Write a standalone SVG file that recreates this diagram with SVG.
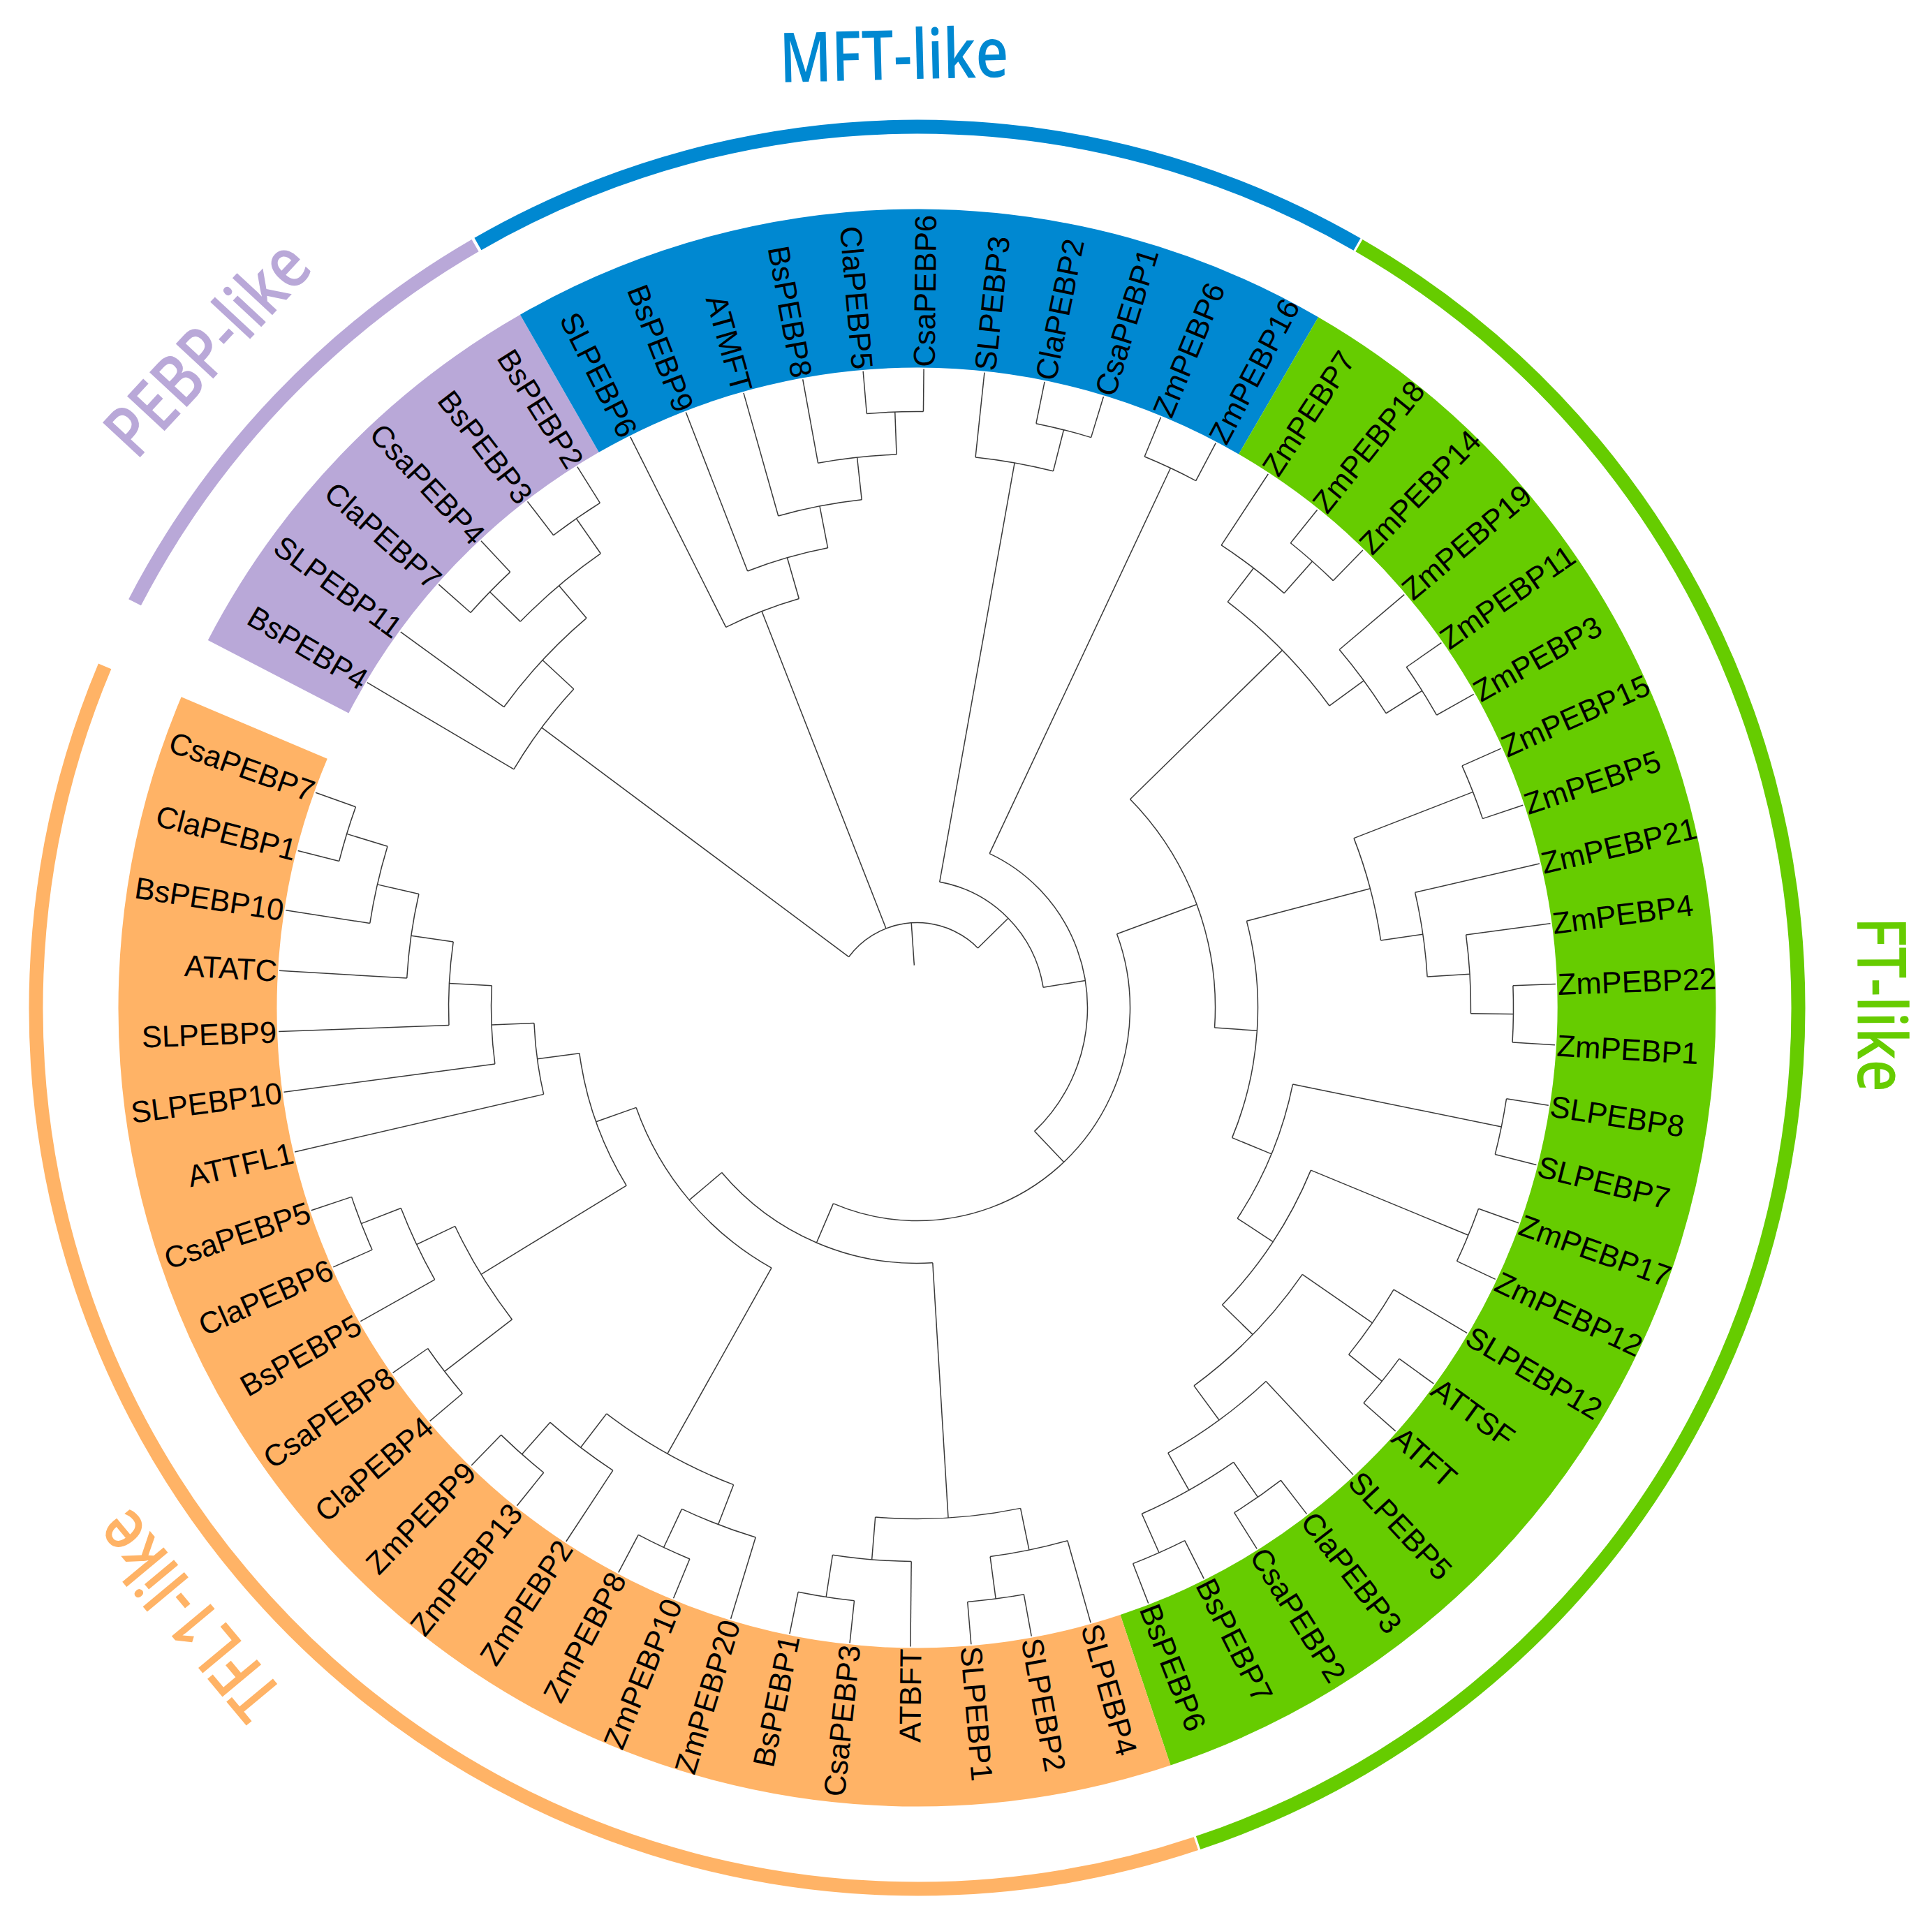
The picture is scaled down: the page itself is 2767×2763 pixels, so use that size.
<svg xmlns="http://www.w3.org/2000/svg" width="2767" height="2763" viewBox="0 0 2767 2763">
<style>
.br path,.br circle{fill:none;stroke:#3a3a3a;stroke-width:1.5}
.band{fill:none;stroke-width:227}
.ring{fill:none;stroke-width:20}
.lb{font-family:"Liberation Sans",Arial,sans-serif;font-size:43.5px;fill:#000}
.f{text-anchor:end}
.ttl{font-family:"Open Sans","Noto Sans",sans-serif;font-weight:600;text-anchor:middle}
</style>
<rect width="2767" height="2763" fill="#fff"/>
<g transform="translate(1313.5 1443.5)">
<g id="clade-bands">
<circle class="band" r="1030.5" pathLength="360" stroke="#B9A8D8" stroke-dasharray="32.8 720" transform="rotate(-152.6)"/>
<circle class="band" r="1030.5" pathLength="360" stroke="#0088D1" stroke-dasharray="59.95 720" transform="rotate(-119.8)"/>
<circle class="band" r="1030.5" pathLength="360" stroke="#66CC00" stroke-dasharray="131.35 720" transform="rotate(-59.85)"/>
<circle class="band" r="1030.5" pathLength="360" stroke="#FFB366" stroke-dasharray="131.4 720" transform="rotate(71.5)"/>
</g>
<g id="clade-rings">
<circle class="ring" r="1262" pathLength="360" stroke="#B9A8D8" stroke-dasharray="32.5 720" transform="rotate(-152.6)"/>
<circle class="ring" r="1262" pathLength="360" stroke="#0088D1" stroke-dasharray="59.85 720" transform="rotate(-119.9)"/>
<circle class="ring" r="1262" pathLength="360" stroke="#66CC00" stroke-dasharray="131.3 720" transform="rotate(-59.9)"/>
<circle class="ring" r="1262" pathLength="360" stroke="#FFB366" stroke-dasharray="131.25 720" transform="rotate(71.55)"/>
</g>
<g id="connectors" class="br">
<path d="M61 0H122" transform="rotate(-93.9)"/>
<circle r="122" pathLength="360" stroke-dasharray="98.74 720" transform="rotate(-143.27)"/>
<path d="M122 0H671" transform="rotate(-143.27)"/>
<circle r="671" pathLength="360" stroke-dasharray="12.27 720" transform="rotate(-149.4)"/>
<path d="M671 0H732" transform="rotate(-137.13)"/>
<circle r="732" pathLength="360" stroke-dasharray="13.64 720" transform="rotate(-143.95)"/>
<path d="M732 0H793" transform="rotate(-130.31)"/>
<circle r="793" pathLength="360" stroke-dasharray="10.91 720" transform="rotate(-135.77)"/>
<path d="M793 0H854" transform="rotate(-135.77)"/>
<circle r="854" pathLength="360" stroke-dasharray="5.45 720" transform="rotate(-138.49)"/>
<path d="M793 0H854" transform="rotate(-124.86)"/>
<circle r="854" pathLength="360" stroke-dasharray="5.45 720" transform="rotate(-127.58)"/>
<path d="M671 0H915" transform="rotate(-149.4)"/>
<path d="M732 0H915" transform="rotate(-143.95)"/>
<path d="M854 0H915" transform="rotate(-138.49)"/>
<path d="M854 0H915" transform="rotate(-133.04)"/>
<path d="M854 0H915" transform="rotate(-127.58)"/>
<path d="M854 0H915" transform="rotate(-122.13)"/>
<path d="M122 0H610" transform="rotate(-111.39)"/>
<circle r="610" pathLength="360" stroke-dasharray="10.57 720" transform="rotate(-116.67)"/>
<path d="M610 0H671" transform="rotate(-106.1)"/>
<circle r="671" pathLength="360" stroke-dasharray="10.23 720" transform="rotate(-111.22)"/>
<path d="M671 0H732" transform="rotate(-100.99)"/>
<circle r="732" pathLength="360" stroke-dasharray="9.54 720" transform="rotate(-105.76)"/>
<path d="M732 0H793" transform="rotate(-96.22)"/>
<circle r="793" pathLength="360" stroke-dasharray="8.18 720" transform="rotate(-100.31)"/>
<path d="M793 0H854" transform="rotate(-92.13)"/>
<circle r="854" pathLength="360" stroke-dasharray="5.45 720" transform="rotate(-94.85)"/>
<path d="M610 0H915" transform="rotate(-116.67)"/>
<path d="M671 0H915" transform="rotate(-111.22)"/>
<path d="M732 0H915" transform="rotate(-105.76)"/>
<path d="M793 0H915" transform="rotate(-100.31)"/>
<path d="M854 0H915" transform="rotate(-94.85)"/>
<path d="M854 0H915" transform="rotate(-89.4)"/>
<path d="M122 0H183" transform="rotate(-44.53)"/>
<circle r="183" pathLength="360" stroke-dasharray="70.66 720" transform="rotate(-79.86)"/>
<path d="M183 0H793" transform="rotate(-79.86)"/>
<circle r="793" pathLength="360" stroke-dasharray="8.18 720" transform="rotate(-83.95)"/>
<path d="M793 0H854" transform="rotate(-75.77)"/>
<circle r="854" pathLength="360" stroke-dasharray="5.45 720" transform="rotate(-78.49)"/>
<path d="M793 0H915" transform="rotate(-83.95)"/>
<path d="M854 0H915" transform="rotate(-78.49)"/>
<path d="M854 0H915" transform="rotate(-73.04)"/>
<path d="M183 0H244" transform="rotate(-9.2)"/>
<circle r="244" pathLength="360" stroke-dasharray="111.3 720" transform="rotate(-64.85)"/>
<path d="M244 0H854" transform="rotate(-64.85)"/>
<circle r="854" pathLength="360" stroke-dasharray="5.45 720" transform="rotate(-67.58)"/>
<path d="M854 0H915" transform="rotate(-67.58)"/>
<path d="M854 0H915" transform="rotate(-62.13)"/>
<path d="M244 0H305" transform="rotate(46.45)"/>
<circle r="305" pathLength="360" stroke-dasharray="133.46 720" transform="rotate(-20.28)"/>
<path d="M305 0H427" transform="rotate(-20.28)"/>
<circle r="427" pathLength="360" stroke-dasharray="48.24 720" transform="rotate(-44.4)"/>
<path d="M427 0H732" transform="rotate(-44.4)"/>
<circle r="732" pathLength="360" stroke-dasharray="16.36 720" transform="rotate(-52.58)"/>
<path d="M732 0H793" transform="rotate(-52.58)"/>
<circle r="793" pathLength="360" stroke-dasharray="8.18 720" transform="rotate(-56.67)"/>
<path d="M793 0H854" transform="rotate(-48.49)"/>
<circle r="854" pathLength="360" stroke-dasharray="5.46 720" transform="rotate(-51.22)"/>
<path d="M793 0H915" transform="rotate(-56.67)"/>
<path d="M854 0H915" transform="rotate(-51.22)"/>
<path d="M854 0H915" transform="rotate(-45.76)"/>
<path d="M732 0H793" transform="rotate(-36.22)"/>
<circle r="793" pathLength="360" stroke-dasharray="8.18 720" transform="rotate(-40.31)"/>
<path d="M793 0H854" transform="rotate(-32.13)"/>
<circle r="854" pathLength="360" stroke-dasharray="5.45 720" transform="rotate(-34.85)"/>
<path d="M793 0H915" transform="rotate(-40.31)"/>
<path d="M854 0H915" transform="rotate(-34.85)"/>
<path d="M854 0H915" transform="rotate(-29.4)"/>
<path d="M427 0H488" transform="rotate(3.84)"/>
<circle r="488" pathLength="360" stroke-dasharray="37.16 720" transform="rotate(-14.74)"/>
<path d="M488 0H671" transform="rotate(-14.74)"/>
<circle r="671" pathLength="360" stroke-dasharray="12.95 720" transform="rotate(-21.22)"/>
<path d="M671 0H854" transform="rotate(-21.22)"/>
<circle r="854" pathLength="360" stroke-dasharray="5.46 720" transform="rotate(-23.95)"/>
<path d="M854 0H915" transform="rotate(-23.95)"/>
<path d="M854 0H915" transform="rotate(-18.49)"/>
<path d="M671 0H732" transform="rotate(-8.27)"/>
<circle r="732" pathLength="360" stroke-dasharray="9.55 720" transform="rotate(-13.04)"/>
<path d="M732 0H793" transform="rotate(-3.49)"/>
<circle r="793" pathLength="360" stroke-dasharray="8.18 720" transform="rotate(-7.58)"/>
<path d="M793 0H854" transform="rotate(0.6)"/>
<circle r="854" pathLength="360" stroke-dasharray="5.46 720" transform="rotate(-2.13)"/>
<path d="M732 0H915" transform="rotate(-13.04)"/>
<path d="M793 0H915" transform="rotate(-7.58)"/>
<path d="M854 0H915" transform="rotate(-2.13)"/>
<path d="M854 0H915" transform="rotate(3.33)"/>
<path d="M488 0H549" transform="rotate(22.42)"/>
<circle r="549" pathLength="360" stroke-dasharray="21.82 720" transform="rotate(11.51)"/>
<path d="M549 0H854" transform="rotate(11.51)"/>
<circle r="854" pathLength="360" stroke-dasharray="5.46 720" transform="rotate(8.78)"/>
<path d="M854 0H915" transform="rotate(8.78)"/>
<path d="M854 0H915" transform="rotate(14.24)"/>
<path d="M549 0H610" transform="rotate(33.33)"/>
<circle r="610" pathLength="360" stroke-dasharray="21.82 720" transform="rotate(22.42)"/>
<path d="M610 0H854" transform="rotate(22.42)"/>
<circle r="854" pathLength="360" stroke-dasharray="5.46 720" transform="rotate(19.69)"/>
<path d="M854 0H915" transform="rotate(19.69)"/>
<path d="M854 0H915" transform="rotate(25.15)"/>
<path d="M610 0H671" transform="rotate(44.24)"/>
<circle r="671" pathLength="360" stroke-dasharray="19.09 720" transform="rotate(34.69)"/>
<path d="M671 0H793" transform="rotate(34.69)"/>
<circle r="793" pathLength="360" stroke-dasharray="8.18 720" transform="rotate(30.6)"/>
<path d="M793 0H854" transform="rotate(38.78)"/>
<circle r="854" pathLength="360" stroke-dasharray="5.46 720" transform="rotate(36.05)"/>
<path d="M793 0H915" transform="rotate(30.6)"/>
<path d="M854 0H915" transform="rotate(36.05)"/>
<path d="M854 0H915" transform="rotate(41.51)"/>
<path d="M671 0H732" transform="rotate(53.78)"/>
<circle r="732" pathLength="360" stroke-dasharray="13.64 720" transform="rotate(46.96)"/>
<path d="M732 0H793" transform="rotate(60.6)"/>
<circle r="793" pathLength="360" stroke-dasharray="10.91 720" transform="rotate(55.15)"/>
<path d="M793 0H854" transform="rotate(55.15)"/>
<circle r="854" pathLength="360" stroke-dasharray="5.45 720" transform="rotate(52.42)"/>
<path d="M793 0H854" transform="rotate(66.06)"/>
<circle r="854" pathLength="360" stroke-dasharray="5.45 720" transform="rotate(63.33)"/>
<path d="M732 0H915" transform="rotate(46.96)"/>
<path d="M854 0H915" transform="rotate(52.42)"/>
<path d="M854 0H915" transform="rotate(57.87)"/>
<path d="M854 0H915" transform="rotate(63.33)"/>
<path d="M854 0H915" transform="rotate(68.78)"/>
<path d="M305 0H366" transform="rotate(113.18)"/>
<circle r="366" pathLength="360" stroke-dasharray="53.33 720" transform="rotate(86.51)"/>
<path d="M366 0H732" transform="rotate(86.51)"/>
<circle r="732" pathLength="360" stroke-dasharray="16.36 720" transform="rotate(78.33)"/>
<path d="M732 0H793" transform="rotate(78.33)"/>
<circle r="793" pathLength="360" stroke-dasharray="8.18 720" transform="rotate(74.24)"/>
<path d="M793 0H854" transform="rotate(82.42)"/>
<circle r="854" pathLength="360" stroke-dasharray="5.46 720" transform="rotate(79.69)"/>
<path d="M793 0H915" transform="rotate(74.24)"/>
<path d="M854 0H915" transform="rotate(79.69)"/>
<path d="M854 0H915" transform="rotate(85.15)"/>
<path d="M732 0H793" transform="rotate(94.69)"/>
<circle r="793" pathLength="360" stroke-dasharray="8.18 720" transform="rotate(90.6)"/>
<path d="M793 0H854" transform="rotate(98.78)"/>
<circle r="854" pathLength="360" stroke-dasharray="5.46 720" transform="rotate(96.05)"/>
<path d="M793 0H915" transform="rotate(90.6)"/>
<path d="M854 0H915" transform="rotate(96.05)"/>
<path d="M854 0H915" transform="rotate(101.51)"/>
<path d="M366 0H427" transform="rotate(139.84)"/>
<circle r="427" pathLength="360" stroke-dasharray="41.21 720" transform="rotate(119.24)"/>
<path d="M427 0H732" transform="rotate(119.24)"/>
<circle r="732" pathLength="360" stroke-dasharray="16.37 720" transform="rotate(111.05)"/>
<path d="M732 0H793" transform="rotate(111.05)"/>
<circle r="793" pathLength="360" stroke-dasharray="8.19 720" transform="rotate(106.96)"/>
<path d="M793 0H854" transform="rotate(115.15)"/>
<circle r="854" pathLength="360" stroke-dasharray="5.45 720" transform="rotate(112.42)"/>
<path d="M793 0H915" transform="rotate(106.96)"/>
<path d="M854 0H915" transform="rotate(112.42)"/>
<path d="M854 0H915" transform="rotate(117.87)"/>
<path d="M732 0H793" transform="rotate(127.42)"/>
<circle r="793" pathLength="360" stroke-dasharray="8.18 720" transform="rotate(123.33)"/>
<path d="M793 0H854" transform="rotate(131.51)"/>
<circle r="854" pathLength="360" stroke-dasharray="5.46 720" transform="rotate(128.78)"/>
<path d="M793 0H915" transform="rotate(123.33)"/>
<path d="M854 0H915" transform="rotate(128.78)"/>
<path d="M854 0H915" transform="rotate(134.24)"/>
<path d="M427 0H488" transform="rotate(160.45)"/>
<circle r="488" pathLength="360" stroke-dasharray="23.77 720" transform="rotate(148.56)"/>
<path d="M488 0H732" transform="rotate(148.56)"/>
<circle r="732" pathLength="360" stroke-dasharray="12.27 720" transform="rotate(142.42)"/>
<path d="M732 0H854" transform="rotate(142.42)"/>
<circle r="854" pathLength="360" stroke-dasharray="5.46 720" transform="rotate(139.69)"/>
<path d="M854 0H915" transform="rotate(139.69)"/>
<path d="M854 0H915" transform="rotate(145.15)"/>
<path d="M732 0H793" transform="rotate(154.69)"/>
<circle r="793" pathLength="360" stroke-dasharray="8.18 720" transform="rotate(150.6)"/>
<path d="M793 0H854" transform="rotate(158.78)"/>
<circle r="854" pathLength="360" stroke-dasharray="5.46 720" transform="rotate(156.05)"/>
<path d="M793 0H915" transform="rotate(150.6)"/>
<path d="M854 0H915" transform="rotate(156.05)"/>
<path d="M854 0H915" transform="rotate(161.51)"/>
<path d="M488 0H549" transform="rotate(172.33)"/>
<circle r="549" pathLength="360" stroke-dasharray="10.74 720" transform="rotate(166.96)"/>
<path d="M549 0H610" transform="rotate(177.7)"/>
<circle r="610" pathLength="360" stroke-dasharray="10.57 720" transform="rotate(172.42)"/>
<path d="M610 0H671" transform="rotate(182.99)"/>
<circle r="671" pathLength="360" stroke-dasharray="10.23 720" transform="rotate(177.87)"/>
<path d="M671 0H732" transform="rotate(188.1)"/>
<circle r="732" pathLength="360" stroke-dasharray="9.54 720" transform="rotate(183.33)"/>
<path d="M732 0H793" transform="rotate(192.87)"/>
<circle r="793" pathLength="360" stroke-dasharray="8.18 720" transform="rotate(188.78)"/>
<path d="M793 0H854" transform="rotate(196.96)"/>
<circle r="854" pathLength="360" stroke-dasharray="5.45 720" transform="rotate(194.24)"/>
<path d="M549 0H915" transform="rotate(166.96)"/>
<path d="M610 0H915" transform="rotate(172.42)"/>
<path d="M671 0H915" transform="rotate(177.87)"/>
<path d="M732 0H915" transform="rotate(183.33)"/>
<path d="M793 0H915" transform="rotate(188.78)"/>
<path d="M854 0H915" transform="rotate(194.24)"/>
<path d="M854 0H915" transform="rotate(199.69)"/>
</g>
<g id="leaf-BsPEBP4"><text class="lb f" x="-918" dy=".36em" transform="rotate(30.6)">BsPEBP4</text></g>
<g id="leaf-SLPEBP11"><text class="lb f" x="-918" dy=".36em" transform="rotate(36.05)">SLPEBP11</text></g>
<g id="leaf-ClaPEBP7"><text class="lb f" x="-918" dy=".36em" transform="rotate(41.51)">ClaPEBP7</text></g>
<g id="leaf-CsaPEBP4"><text class="lb f" x="-918" dy=".36em" transform="rotate(46.96)">CsaPEBP4</text></g>
<g id="leaf-BsPEBP3"><text class="lb f" x="-918" dy=".36em" transform="rotate(52.42)">BsPEBP3</text></g>
<g id="leaf-BsPEBP2"><text class="lb f" x="-918" dy=".36em" transform="rotate(57.87)">BsPEBP2</text></g>
<g id="leaf-SLPEBP6"><text class="lb f" x="-918" dy=".36em" transform="rotate(63.33)">SLPEBP6</text></g>
<g id="leaf-BsPEBP9"><text class="lb f" x="-918" dy=".36em" transform="rotate(68.78)">BsPEBP9</text></g>
<g id="leaf-ATMFT"><text class="lb f" x="-918" dy=".36em" transform="rotate(74.24)">ATMFT</text></g>
<g id="leaf-BsPEBP8"><text class="lb f" x="-918" dy=".36em" transform="rotate(79.69)">BsPEBP8</text></g>
<g id="leaf-ClaPEBP5"><text class="lb f" x="-918" dy=".36em" transform="rotate(85.15)">ClaPEBP5</text></g>
<g id="leaf-CsaPEBP6"><text class="lb" x="918" dy=".36em" transform="rotate(-89.4)">CsaPEBP6</text></g>
<g id="leaf-SLPEBP3"><text class="lb" x="918" dy=".36em" transform="rotate(-83.95)">SLPEBP3</text></g>
<g id="leaf-ClaPEBP2"><text class="lb" x="918" dy=".36em" transform="rotate(-78.49)">ClaPEBP2</text></g>
<g id="leaf-CsaPEBP1"><text class="lb" x="918" dy=".36em" transform="rotate(-73.04)">CsaPEBP1</text></g>
<g id="leaf-ZmPEBP6"><text class="lb" x="918" dy=".36em" transform="rotate(-67.58)">ZmPEBP6</text></g>
<g id="leaf-ZmPEBP16"><text class="lb" x="918" dy=".36em" transform="rotate(-62.13)">ZmPEBP16</text></g>
<g id="leaf-ZmPEBP7"><text class="lb" x="918" dy=".36em" transform="rotate(-56.67)">ZmPEBP7</text></g>
<g id="leaf-ZmPEBP18"><text class="lb" x="918" dy=".36em" transform="rotate(-51.22)">ZmPEBP18</text></g>
<g id="leaf-ZmPEBP14"><text class="lb" x="918" dy=".36em" transform="rotate(-45.76)">ZmPEBP14</text></g>
<g id="leaf-ZmPEBP19"><text class="lb" x="918" dy=".36em" transform="rotate(-40.31)">ZmPEBP19</text></g>
<g id="leaf-ZmPEBP11"><text class="lb" x="918" dy=".36em" transform="rotate(-34.85)">ZmPEBP11</text></g>
<g id="leaf-ZmPEBP3"><text class="lb" x="918" dy=".36em" transform="rotate(-29.4)">ZmPEBP3</text></g>
<g id="leaf-ZmPEBP15"><text class="lb" x="918" dy=".36em" transform="rotate(-23.95)">ZmPEBP15</text></g>
<g id="leaf-ZmPEBP5"><text class="lb" x="918" dy=".36em" transform="rotate(-18.49)">ZmPEBP5</text></g>
<g id="leaf-ZmPEBP21"><text class="lb" x="918" dy=".36em" transform="rotate(-13.04)">ZmPEBP21</text></g>
<g id="leaf-ZmPEBP4"><text class="lb" x="918" dy=".36em" transform="rotate(-7.58)">ZmPEBP4</text></g>
<g id="leaf-ZmPEBP22"><text class="lb" x="918" dy=".36em" transform="rotate(-2.13)">ZmPEBP22</text></g>
<g id="leaf-ZmPEBP1"><text class="lb" x="918" dy=".36em" transform="rotate(3.33)">ZmPEBP1</text></g>
<g id="leaf-SLPEBP8"><text class="lb" x="918" dy=".36em" transform="rotate(8.78)">SLPEBP8</text></g>
<g id="leaf-SLPEBP7"><text class="lb" x="918" dy=".36em" transform="rotate(14.24)">SLPEBP7</text></g>
<g id="leaf-ZmPEBP17"><text class="lb" x="918" dy=".36em" transform="rotate(19.69)">ZmPEBP17</text></g>
<g id="leaf-ZmPEBP12"><text class="lb" x="918" dy=".36em" transform="rotate(25.15)">ZmPEBP12</text></g>
<g id="leaf-SLPEBP12"><text class="lb" x="918" dy=".36em" transform="rotate(30.6)">SLPEBP12</text></g>
<g id="leaf-ATTSF"><text class="lb" x="918" dy=".36em" transform="rotate(36.05)">ATTSF</text></g>
<g id="leaf-ATFT"><text class="lb" x="918" dy=".36em" transform="rotate(41.51)">ATFT</text></g>
<g id="leaf-SLPEBP5"><text class="lb" x="918" dy=".36em" transform="rotate(46.96)">SLPEBP5</text></g>
<g id="leaf-ClaPEBP3"><text class="lb" x="918" dy=".36em" transform="rotate(52.42)">ClaPEBP3</text></g>
<g id="leaf-CsaPEBP2"><text class="lb" x="918" dy=".36em" transform="rotate(57.87)">CsaPEBP2</text></g>
<g id="leaf-BsPEBP7"><text class="lb" x="918" dy=".36em" transform="rotate(63.33)">BsPEBP7</text></g>
<g id="leaf-BsPEBP6"><text class="lb" x="918" dy=".36em" transform="rotate(68.78)">BsPEBP6</text></g>
<g id="leaf-SLPEBP4"><text class="lb" x="918" dy=".36em" transform="rotate(74.24)">SLPEBP4</text></g>
<g id="leaf-SLPEBP2"><text class="lb" x="918" dy=".36em" transform="rotate(79.69)">SLPEBP2</text></g>
<g id="leaf-SLPEBP1"><text class="lb" x="918" dy=".36em" transform="rotate(85.15)">SLPEBP1</text></g>
<g id="leaf-ATBFT"><text class="lb f" x="-918" dy=".36em" transform="rotate(-89.4)">ATBFT</text></g>
<g id="leaf-CsaPEBP3"><text class="lb f" x="-918" dy=".36em" transform="rotate(-83.95)">CsaPEBP3</text></g>
<g id="leaf-BsPEBP1"><text class="lb f" x="-918" dy=".36em" transform="rotate(-78.49)">BsPEBP1</text></g>
<g id="leaf-ZmPEBP20"><text class="lb f" x="-918" dy=".36em" transform="rotate(-73.04)">ZmPEBP20</text></g>
<g id="leaf-ZmPEBP10"><text class="lb f" x="-918" dy=".36em" transform="rotate(-67.58)">ZmPEBP10</text></g>
<g id="leaf-ZmPEBP8"><text class="lb f" x="-918" dy=".36em" transform="rotate(-62.13)">ZmPEBP8</text></g>
<g id="leaf-ZmPEBP2"><text class="lb f" x="-918" dy=".36em" transform="rotate(-56.67)">ZmPEBP2</text></g>
<g id="leaf-ZmPEBP13"><text class="lb f" x="-918" dy=".36em" transform="rotate(-51.22)">ZmPEBP13</text></g>
<g id="leaf-ZmPEBP9"><text class="lb f" x="-918" dy=".36em" transform="rotate(-45.76)">ZmPEBP9</text></g>
<g id="leaf-ClaPEBP4"><text class="lb f" x="-918" dy=".36em" transform="rotate(-40.31)">ClaPEBP4</text></g>
<g id="leaf-CsaPEBP8"><text class="lb f" x="-918" dy=".36em" transform="rotate(-34.85)">CsaPEBP8</text></g>
<g id="leaf-BsPEBP5"><text class="lb f" x="-918" dy=".36em" transform="rotate(-29.4)">BsPEBP5</text></g>
<g id="leaf-ClaPEBP6"><text class="lb f" x="-918" dy=".36em" transform="rotate(-23.95)">ClaPEBP6</text></g>
<g id="leaf-CsaPEBP5"><text class="lb f" x="-918" dy=".36em" transform="rotate(-18.49)">CsaPEBP5</text></g>
<g id="leaf-ATTFL1"><text class="lb f" x="-918" dy=".36em" transform="rotate(-13.04)">ATTFL1</text></g>
<g id="leaf-SLPEBP10"><text class="lb f" x="-918" dy=".36em" transform="rotate(-7.58)">SLPEBP10</text></g>
<g id="leaf-SLPEBP9"><text class="lb f" x="-918" dy=".36em" transform="rotate(-2.13)">SLPEBP9</text></g>
<g id="leaf-ATATC"><text class="lb f" x="-918" dy=".36em" transform="rotate(3.33)">ATATC</text></g>
<g id="leaf-BsPEBP10"><text class="lb f" x="-918" dy=".36em" transform="rotate(8.78)">BsPEBP10</text></g>
<g id="leaf-ClaPEBP1"><text class="lb f" x="-918" dy=".36em" transform="rotate(14.24)">ClaPEBP1</text></g>
<g id="leaf-CsaPEBP7"><text class="lb f" x="-918" dy=".36em" transform="rotate(19.69)">CsaPEBP7</text></g>
<g id="titles">
<text class="ttl" fill="#0088D1" font-size="81" transform="rotate(-91.4) translate(1330 0) rotate(90) scale(1 1.22)">MFT-like</text>
<text class="ttl" fill="#B9A8D8" font-size="84" transform="rotate(-137.1) translate(1352 0) rotate(90) scale(1 1.22)">PEBP-like</text>
<text class="ttl" fill="#66CC00" font-size="80" transform="rotate(-0.2) translate(1347 0) rotate(90) scale(1 1.22)">FT-like</text>
<text class="ttl" fill="#FFB366" font-size="83" transform="rotate(140.2) translate(1324 0) rotate(90) scale(1 1.22)">TFL1-like</text>
</g>
</g>
</svg>
